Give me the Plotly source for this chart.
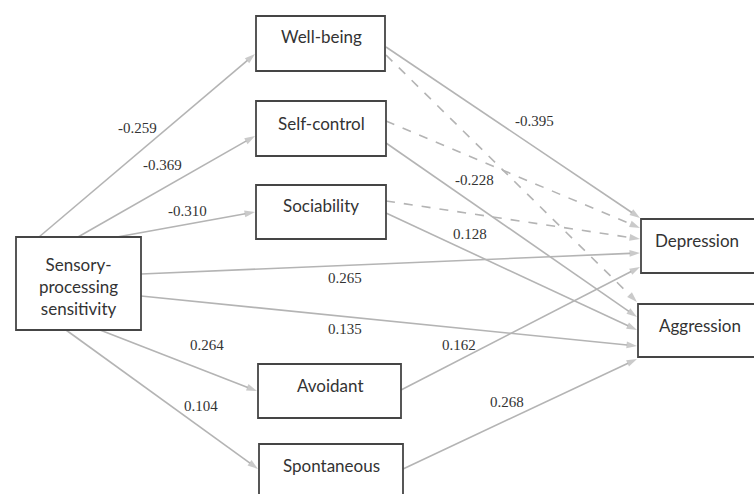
import plotly.graph_objects as go

# ---- data ----
node_names = ["SPS", "Well-being", "Self-control", "Sociability", "Avoidant",
              "Spontaneous", "Depression", "Aggression"]
node_labels = ["Sensory-<br>processing<br>sensitivity", "Well-being", "Self-control",
               "Sociability", "Avoidant", "Spontaneous", "Depression", "Aggression"]

edge_source = ["SPS", "SPS", "SPS", "SPS", "SPS", "SPS", "SPS",
               "Well-being", "Well-being", "Self-control", "Self-control",
               "Sociability", "Sociability", "Avoidant", "Spontaneous"]
edge_target = ["Well-being", "Self-control", "Sociability", "Depression", "Aggression",
               "Avoidant", "Spontaneous",
               "Depression", "Aggression", "Depression", "Aggression",
               "Depression", "Aggression", "Depression", "Aggression"]
edge_coef = ["-0.259", "-0.369", "-0.310", "0.265", "0.135", "0.264", "0.104",
             "-0.395", None, None, "-0.228", None, "0.128", "0.162", "0.268"]
edge_significant = [True, True, True, True, True, True, True,
                    True, False, False, True, False, True, True, True]

# ---- layout (pixel positions of the diagram) ----
box_pos = {  # x0, x1, y0, y1, text x, text y, cut-off edge (None / "right" / "bottom")
    "SPS": (16, 141, 237, 330, 78, 286, None),
    "Well-being": (256, 385, 16, 71, 321, 36, None),
    "Self-control": (256, 386, 101, 156, 321, 123, None),
    "Sociability": (256, 386, 185, 239, 321, 205, None),
    "Avoidant": (258, 401, 364, 418, 330, 385, None),
    "Spontaneous": (259, 403, 444, 520, 331, 465, "bottom"),
    "Depression": (641, 770, 219, 273, 697, 240, "right"),
    "Aggression": (638, 770, 304, 357, 700, 325, "right"),
}
edge_pos = [  # start, end, label position
    ((39, 237), (255, 54), (137, 128)),
    ((78, 237), (255, 136), (162, 165)),
    ((117, 237), (255, 212), (187, 211)),
    ((141, 274), (640, 253), (345, 278)),
    ((141, 296), (637, 346), (345, 329)),
    ((100, 330), (257, 391), (207, 345)),
    ((66, 330), (258, 469), (201, 406)),
    ((386, 47), (640, 218), (534, 121)),
    ((386, 55), (637, 302), None),
    ((386, 121), (640, 228), None),
    ((386, 143), (637, 317), (474, 180)),
    ((386, 201), (640, 239), None),
    ((386, 213), (637, 330), (470, 234)),
    ((401, 390), (640, 267), (459, 345)),
    ((403, 469), (637, 359), (507, 402)),
]

LINE_COLOR = "#b4b4b4"
BOX_COLOR = "#454545"

fig = go.Figure()

for i in range(len(edge_source)):
    (x0, y0), (x1, y1), lab = edge_pos[i]
    fig.add_trace(go.Scatter(
        x=[x0, x1], y=[y0, y1], mode="lines+markers",
        line=dict(color=LINE_COLOR, width=1.6,
                  dash="solid" if edge_significant[i] else "dash"),
        marker=dict(symbol=["circle", "arrow"], size=[0, 11], angleref="previous",
                    color=LINE_COLOR, line=dict(width=0)),
        hoverinfo="skip", showlegend=False, cliponaxis=False))
    if edge_coef[i] is not None and lab is not None:
        fig.add_annotation(x=lab[0], y=lab[1], text=edge_coef[i], showarrow=False,
                           font=dict(family="Liberation Serif", size=15, color="#333333"))

for name, label in zip(node_names, node_labels):
    x0, x1, y0, y1, tx, ty, cut = box_pos[name]
    if cut == "right":
        path = f"M{x1},{y0} L{x0},{y0} L{x0},{y1} L{x1},{y1}"
    elif cut == "bottom":
        path = f"M{x0},{y1} L{x0},{y0} L{x1},{y0} L{x1},{y1}"
    else:
        path = f"M{x0},{y0} L{x1},{y0} L{x1},{y1} L{x0},{y1} Z"
    fig.add_shape(type="path", path=path,
                  line=dict(color=BOX_COLOR, width=1.8), fillcolor="rgba(0,0,0,0)")
    fig.add_annotation(x=tx, y=ty, text=label, showarrow=False,
                       font=dict(family="Lato", size=17, color="#333333"))

fig.update_layout(
    width=754, height=494,
    margin=dict(l=0, r=0, t=0, b=0),
    paper_bgcolor="white", plot_bgcolor="white",
    xaxis=dict(range=[0, 754], visible=False, fixedrange=True),
    yaxis=dict(range=[494, 0], visible=False, fixedrange=True),
)

fig.write_html("out.html", config={"displayModeBar": False},
               post_script="document.body.style.margin='0';document.body.style.overflow='hidden';")
